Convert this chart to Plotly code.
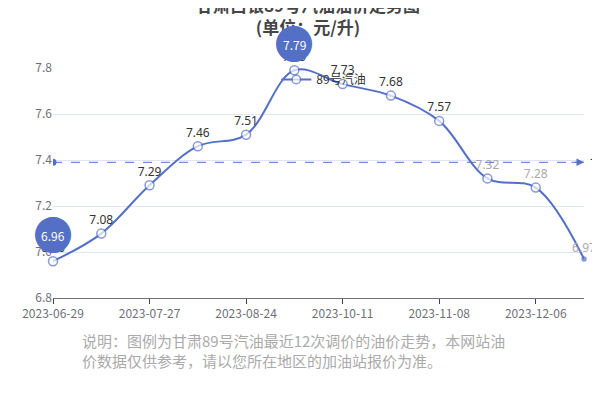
import plotly.graph_objects as go

dates = ["2023-06-29","2023-07-13","2023-07-27","2023-08-10","2023-08-24","2023-09-07",
         "2023-10-11","2023-10-25","2023-11-08","2023-11-22","2023-12-06","2023-12-20"]
prices = [6.96, 7.08, 7.29, 7.46, 7.51, 7.79, 7.73, 7.68, 7.57, 7.32, 7.28, 6.97]
tick_labels = ["2023-06-29","2023-07-27","2023-08-24","2023-10-11","2023-11-08","2023-12-06"]
avg = 7.39
blue = "#5470c6"

fig = go.Figure()
fig.add_trace(go.Scatter(
    x=dates, y=prices, mode="lines+markers+text", name="89号汽油",
    line=dict(color=blue, width=2, shape="spline", smoothing=1.0),
    marker=dict(size=[9]*11 + [4], color=["white"]*11 + [blue], line=dict(color=blue, width=1.5)),
    text=[f"{v:.2f}" for v in prices], textposition="top center",
    textfont=dict(size=12, color=["#333"]*9 + ["#aaa"]*3, family="Noto Sans"),
    cliponaxis=False))
fig.add_trace(go.Scatter(x=[dates[0], dates[-1]], y=[avg, avg], mode="lines", showlegend=False,
                         line=dict(color=blue, width=1, dash="dash"), hoverinfo="skip"))
fig.add_trace(go.Scatter(x=[dates[0]], y=[avg], mode="markers", showlegend=False,
                         marker=dict(size=7, color=blue)))
fig.add_annotation(x=dates[-1], y=avg, ax=-14, ay=0, text="", showarrow=True,
                   arrowhead=2, arrowsize=1.5, arrowcolor=blue)
fig.add_annotation(x=1.0, xref="paper", y=avg, text=f"{avg:.2f}", showarrow=False,
                   xanchor="left", xshift=4, font=dict(size=12, color="#333"))
for i in (5, 0):
    fig.add_annotation(x=dates[i], y=prices[i], yshift=28, text="●", showarrow=False,
                       font=dict(size=40, color=blue))
    fig.add_annotation(x=dates[i], y=prices[i], yshift=26, text=f"{prices[i]:.2f}", showarrow=False,
                       font=dict(size=12, color="white"))

fig.update_layout(
    width=600, height=400, plot_bgcolor="white", paper_bgcolor="white",
    margin=dict(l=45, r=24, t=60, b=110),
    title=dict(text="<b>甘肃白银89号汽油油价走势图<br>(单位：元/升)</b>", x=0.5, y=0.99, yanchor="top",
               font=dict(size=17, color="#464646", family="Noto Sans CJK SC")),
    showlegend=True,
    legend=dict(x=0.51, xanchor="center", y=0.95, yanchor="middle", orientation="h",
                font=dict(size=12, color="#333"), bgcolor="rgba(0,0,0,0)"),
    xaxis=dict(type="category", range=[0, 11], tickmode="array", tickvals=tick_labels,
               ticktext=tick_labels, showgrid=False, showline=True, linecolor="#6e7079",
               ticks="outside", tickfont=dict(size=12, color="#6e7079")),
    yaxis=dict(range=[6.8, 7.8], dtick=0.2, tickformat=".1f", gridcolor="#e0e6f1",
               zeroline=False, tickfont=dict(size=12, color="#6e7079")),
    font=dict(family="Noto Sans CJK SC"),
)
fig.add_annotation(x=0.05, xref="paper", y=-0.13, yref="paper", xanchor="left", yanchor="top",
                   align="left", showarrow=False,
                   text="说明：图例为甘肃89号汽油最近12次调价的油价走势，本网站油<br>价数据仅供参考，请以您所在地区的加油站报价为准。",
                   font=dict(size=15, color="#aaa"))
fig.write_html("out.html")
